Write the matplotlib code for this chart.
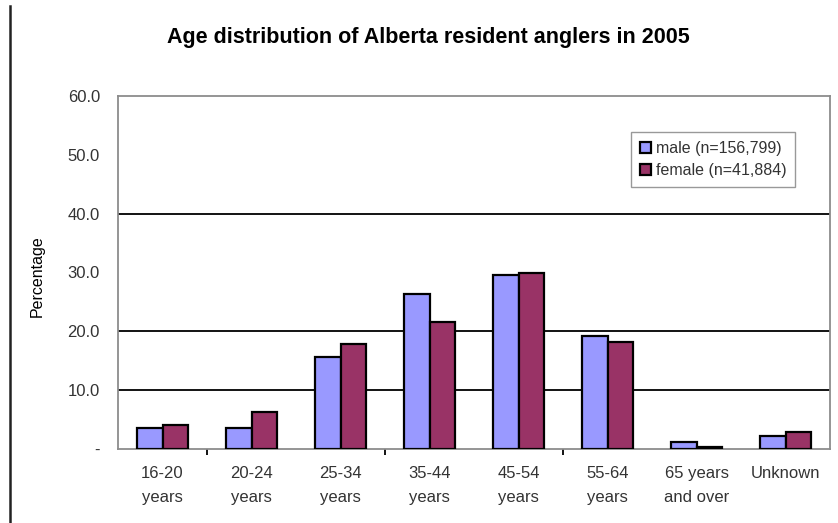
import numpy as np
import matplotlib
matplotlib.use("Agg")
import matplotlib.pyplot as plt
from matplotlib.lines import Line2D

# data
categories = ["16-20\nyears", "20-24\nyears", "25-34\nyears", "35-44\nyears",
              "45-54\nyears", "55-64\nyears", "65 years\nand over", "Unknown"]
male = [3.6, 3.6, 15.7, 26.3, 29.6, 19.2, 1.2, 2.2]
female = [4.0, 6.3, 17.8, 21.6, 30.0, 18.2, 0.3, 2.9]
male_label = "male (n=156,799)"
female_label = "female (n=41,884)"
y_ticks = [0, 10, 20, 30, 40, 50, 60]
y_ticklabels = ["-", "10.0", "20.0", "30.0", "40.0", "50.0", "60.0"]
grid_vals = [10, 20, 40]

plt.rcParams['font.family'] = ['Liberation Sans', 'DejaVu Sans']

fig = plt.figure(figsize=(8.38, 5.23), dpi=100)
ax = fig.add_axes([118 / 838, 74 / 523, 712 / 838, 353 / 523])

x = np.arange(len(categories))
w = 0.292
ax.bar(x - w / 2, male, w, color='#9999FF', edgecolor='black', linewidth=1.6,
       label=male_label, zorder=3)
ax.bar(x + w / 2, female, w, color='#993366', edgecolor='black', linewidth=1.6,
       label=female_label, zorder=3)

ax.set_xlim(-0.5, len(categories) - 0.5)
ax.set_ylim(0, 60)

# y axis
ax.set_yticks(y_ticks)
ax.set_yticklabels(y_ticklabels, fontsize=12, color='#333333')
ax.tick_params(axis='y', which='major', length=0, pad=13)
ax.set_yticks(grid_vals, minor=True)
ax.tick_params(axis='y', which='minor', length=4, width=1.3, color='black')
for g in grid_vals:
    ax.axhline(g, color='black', linewidth=1.3, zorder=1)

# x axis
ax.set_xticks(x)
ax.set_xticklabels(categories, fontsize=12, color='#333333', linespacing=1.75)
ax.tick_params(axis='x', which='major', length=0, pad=12)
ax.set_xticks([0.5, 2.5, 4.5], minor=True)
ax.tick_params(axis='x', which='minor', length=4, width=1.3, color='black')

for s in ax.spines.values():
    s.set_color('#8c8c8c')
    s.set_linewidth(1.3)

ax.set_ylabel("Percentage", fontsize=11.5)
ax.yaxis.set_label_coords(-0.1025, 0.49)

fig.text(428 / 838, 1 - 38 / 523, "Age distribution of Alberta resident anglers in 2005",
         ha='center', va='center', fontsize=15.5, fontweight='bold')

leg = ax.legend(loc='upper right', bbox_to_anchor=(0.951, 0.898), fontsize=11.5,
                frameon=True, fancybox=False, edgecolor='#999999', framealpha=1,
                handlelength=0.7, handleheight=0.7, handletextpad=0.3,
                borderpad=0.55, labelspacing=0.45, borderaxespad=0)
leg.get_frame().set_linewidth(1.0)
for t in leg.get_texts():
    t.set_color('#333333')

# page border on the left
fig.add_artist(Line2D([10 / 838, 10 / 838], [0, 1 - 6 / 523], color='#222222',
                      linewidth=1.8, transform=fig.transFigure))

fig.savefig("out.png", dpi=100)
